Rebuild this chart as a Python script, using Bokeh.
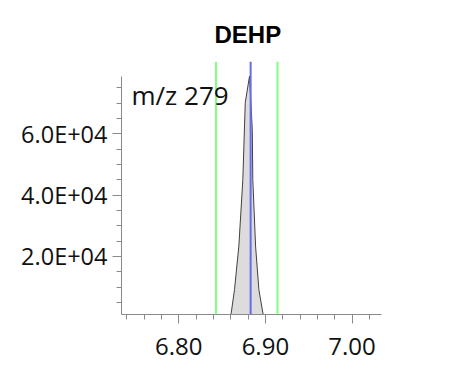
from bokeh.plotting import figure
from bokeh.models import Range1d, FixedTicker, Span, Label, Title, CustomJSTickFormatter
from bokeh.embed import file_html
from bokeh.resources import INLINE

# peak trace (retention time in min, intensity)
rt = [6.845, 6.8594, 6.8606, 6.8644, 6.8694, 6.8740, 6.8768, 6.8817,
      6.8849, 6.8855, 6.8887, 6.8925, 6.8971, 6.8991, 6.913]
intensity = [0, 0, 1600, 9200, 23400, 45100, 70200, 78800,
             61400, 45100, 23400, 9200, 1600, 0, 0]

window_rt = [6.843, 6.914]      # green integration window
apex_rt = [6.883]               # blue apex marker
title_text = "DEHP"
ion_label = "m/z 279"
x_ticks = [6.80, 6.90, 7.00]
y_ticks = [20000, 40000, 60000]
x_minor = [6.74, 6.76, 6.78, 6.82, 6.84, 6.86, 6.88, 6.92, 6.94, 6.96, 6.98, 7.02]
y_minor = [5000, 10000, 15000, 25000, 30000, 35000, 45000, 50000, 55000, 65000, 70000, 75000]

p = figure(width=437, height=367, output_backend="svg", toolbar_location=None,
           x_range=Range1d(6.734, 7.034), y_range=Range1d(1080, 83600),
           min_border_left=121, min_border_right=56, min_border_bottom=53,
           min_border_top=61)
p.title = None
p.add_layout(Title(text=title_text, align="left", text_font="Liberation Sans",
                   text_font_size="24px", text_font_style="bold", text_color="black",
                   standoff=28, offset=93), "above")

p.grid.visible = False
p.outline_line_color = None
p.background_fill_color = "white"
p.border_fill_color = "white"

p.varea(x=rt, y1=0, y2=intensity, fill_color="#dcdcdc")
p.line(x=rt, y=intensity, line_color="#404040", line_width=1)

for loc in window_rt:
    p.add_layout(Span(location=loc, dimension="height", line_color="#80ff80", line_width=2))
for loc in apex_rt:
    p.add_layout(Span(location=loc, dimension="height", line_color="#6a6ae8", line_width=2))

p.add_layout(Label(x=10, y=202, x_units="screen", y_units="screen", text=ion_label,
                   text_font="Open Sans", text_font_size="26px", text_color="#111111"))

for ax in (p.xaxis[0], p.yaxis[0]):
    ax.axis_line_color = "#8a8a8a"
    ax.major_tick_line_color = "#8a8a8a"
    ax.minor_tick_line_color = "#8a8a8a"
    ax.major_tick_out = 9
    ax.major_tick_in = 0
    ax.minor_tick_out = 5
    ax.minor_tick_in = 0
    ax.major_label_text_font = "Open Sans"
    ax.major_label_text_color = "#111111"

p.xaxis.ticker = FixedTicker(ticks=x_ticks, minor_ticks=x_minor)
p.xaxis.formatter = CustomJSTickFormatter(code="return tick.toFixed(2);")
p.xaxis.major_label_text_font_size = "24px"
p.xaxis.major_label_standoff = 14

p.yaxis.ticker = FixedTicker(ticks=y_ticks, minor_ticks=y_minor)
p.yaxis.formatter = CustomJSTickFormatter(
    code="var e = Math.floor(Math.log10(tick)); var m = tick/Math.pow(10,e); return m.toFixed(1) + 'E+' + (e<10?'0':'') + e;")
p.yaxis.major_label_text_font_size = "23.5px"
p.yaxis.major_label_standoff = 5
p.yaxis.bounds = (1080, 78700)

open("out.html", "w").write(file_html(p, INLINE))
